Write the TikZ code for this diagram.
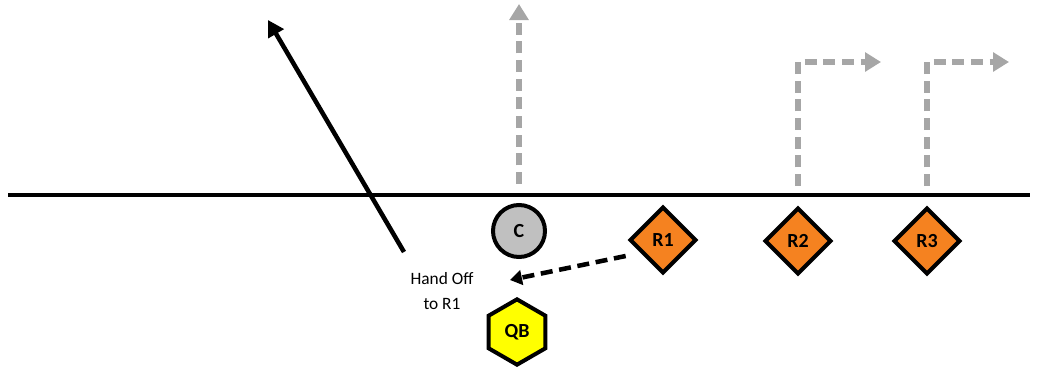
\documentclass[tikz,border=0pt]{standalone}
\usepackage{fontspec}
\setmainfont{Carlito}
\usetikzlibrary{arrows.meta,shapes.geometric}
\definecolor{routegray}{HTML}{A6A6A6}
\definecolor{corange}{HTML}{F58220}
\definecolor{cgray}{HTML}{C0C0C0}
\definecolor{cyellow}{HTML}{FFFF00}
\begin{document}
\begin{tikzpicture}[x=0.75pt,y=-0.75pt,
  player/.style={draw=black,line width=3pt,font=\bfseries\fontsize{15}{18}\selectfont,inner sep=0pt},
  rcv/.style={player,diamond,fill=corange,minimum size=50pt},
  ctr/.style={player,circle,fill=cgray,minimum size=39pt},
  qbs/.style={player,regular polygon,regular polygon sides=6,shape border rotate=30,fill=cyellow,minimum size=49pt},
  route/.style={draw=routegray,line width=4.2pt,dash pattern=on 9pt off 5pt,-{Triangle[length=12pt,width=14pt]}},
  runarrow/.style={draw=black,line width=3.4pt,-{Triangle[length=12pt,width=13pt]}},
  handoff/.style={draw=black,line width=3.4pt,dash pattern=on 9pt off 5pt,-{Triangle[length=9pt,width=11pt]}},
  lbl/.style={font=\fontsize{13}{19}\selectfont,align=center}]
\useasboundingbox (0,0) rectangle (1038,371);
\coordinate (losL) at (8,195);
\coordinate (losR) at (1030,195);
\draw[line width=2.8pt] (losL) -- (losR);
\node[ctr] (C) at (519,231) {C};
\node[rcv] (R1) at (663,240) {R1};
\node[rcv] (R2) at (798,241) {R2};
\node[rcv] (R3) at (927,241) {R3};
\node[qbs] (QB) at (517,332) {QB};
\node[lbl] (HO) at (442,291) {Hand Off\\to R1};
% routes
\coordinate (cS) at (519,184);
\coordinate (cE) at (519,4);
\draw[route] (cS) -- (cE);
\coordinate (r2S) at (798,186);
\coordinate (r2K) at (798,62);
\coordinate (r2E) at (881,62);
\draw[route] (r2S) -- (r2K) -- (r2E);
\coordinate (r3S) at (927,186);
\coordinate (r3K) at (927,62);
\coordinate (r3E) at (1009,62);
\draw[route] (r3S) -- (r3K) -- (r3E);
% run
\coordinate (runS) at (404,252);
\coordinate (runE) at (268,20);
\draw[runarrow] (runS) -- (runE);
% handoff
\coordinate (hoE) at (510,280);
\draw[handoff] (R1.west) ++(-2,16) -- (hoE);
\end{tikzpicture}
\end{document}
